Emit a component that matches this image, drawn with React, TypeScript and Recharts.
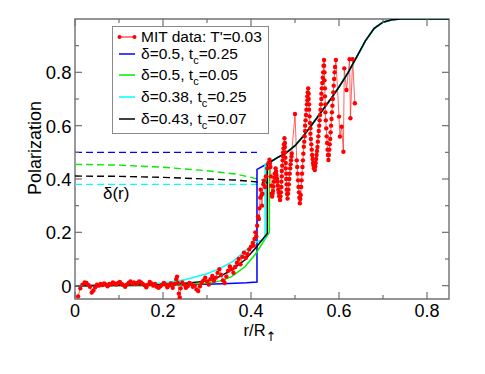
import { LineChart, Line, XAxis, YAxis, ReferenceArea } from "recharts";

// measured data (r/R, polarization)
const mitData = [
  [0.007, -0.04], [0.012, -0.01], [0.017, 0.004], [0.022, 0.012], [0.026, 0.01], [0.03, 0.003],
  [0.034, -0.004], [0.038, -0.026], [0.042, -0.018], [0.046, -0.006], [0.05, 0.004], [0.054, 0.0],
  [0.058, 0.006], [0.062, 0.002], [0.066, 0.008], [0.07, 0.005], [0.074, -0.002], [0.078, 0.006],
  [0.082, 0.004], [0.086, 0.012], [0.09, 0.008], [0.094, 0.004], [0.098, 0.01], [0.102, 0.014],
  [0.106, 0.006], [0.11, 0.002], [0.114, -0.004], [0.118, 0.004], [0.122, 0.01], [0.126, 0.016],
  [0.13, 0.008], [0.134, 0.012], [0.138, 0.006], [0.142, 0.01], [0.146, 0.016], [0.15, 0.012],
  [0.154, 0.006], [0.158, 0.002], [0.162, -0.006], [0.166, 0.004], [0.17, 0.014], [0.174, 0.008],
  [0.178, 0.0], [0.182, 0.006], [0.186, -0.004], [0.19, -0.008], [0.194, -0.002], [0.198, 0.004],
  [0.202, 0.01], [0.206, 0.004], [0.21, -0.006], [0.214, 0.002], [0.218, 0.008], [0.222, -0.008],
  [0.226, 0.006], [0.23, 0.024], [0.232, 0.034], [0.234, 0.01], [0.236, -0.03], [0.238, -0.044],
  [0.24, -0.01], [0.244, 0.012], [0.248, 0.004], [0.252, -0.008], [0.256, -0.002], [0.26, 0.01],
  [0.264, 0.006], [0.268, -0.004], [0.272, 0.0], [0.276, -0.014], [0.28, -0.02], [0.284, -0.002],
  [0.288, 0.012], [0.292, 0.02], [0.296, 0.03], [0.3, 0.016], [0.304, 0.004], [0.308, 0.024],
  [0.312, 0.036], [0.316, 0.018], [0.32, 0.03], [0.324, 0.048], [0.328, 0.062], [0.332, 0.04],
  [0.336, 0.02], [0.34, 0.01], [0.344, 0.034], [0.348, 0.056], [0.352, 0.072], [0.356, 0.062],
  [0.36, 0.048], [0.364, 0.07], [0.368, 0.086], [0.372, 0.1], [0.376, 0.08], [0.38, 0.108],
  [0.384, 0.124], [0.388, 0.104], [0.392, 0.118], [0.396, 0.136], [0.4, 0.146], [0.404, 0.16],
  [0.406, 0.15], [0.408, 0.175], [0.41, 0.2], [0.412, 0.185], [0.414, 0.225], [0.416, 0.26],
  [0.418, 0.25], [0.419, 0.29], [0.421, 0.33], [0.422, 0.36], [0.424, 0.34], [0.425, 0.3],
  [0.426, 0.345], [0.428, 0.38], [0.43, 0.395], [0.432, 0.37], [0.434, 0.41], [0.437, 0.44],
  [0.44, 0.46], [0.442, 0.472], [0.443, 0.458], [0.444, 0.445], [0.445, 0.41], [0.446, 0.375],
  [0.447, 0.345], [0.448, 0.334], [0.449, 0.345], [0.45, 0.355], [0.451, 0.372], [0.452, 0.39],
  [0.453, 0.405], [0.454, 0.42], [0.456, 0.44], [0.457, 0.428], [0.458, 0.415], [0.459, 0.402],
  [0.46, 0.39], [0.461, 0.375], [0.462, 0.36], [0.463, 0.348], [0.464, 0.335], [0.466, 0.321],
  [0.467, 0.335], [0.468, 0.35], [0.469, 0.37], [0.469, 0.39], [0.47, 0.41], [0.47, 0.43],
  [0.471, 0.45], [0.472, 0.47], [0.473, 0.485], [0.473, 0.5], [0.474, 0.515], [0.475, 0.53],
  [0.476, 0.553], [0.477, 0.535], [0.477, 0.52], [0.478, 0.5], [0.478, 0.48], [0.479, 0.46],
  [0.479, 0.44], [0.48, 0.42], [0.48, 0.4], [0.481, 0.38], [0.481, 0.36], [0.482, 0.344],
  [0.483, 0.327], [0.484, 0.345], [0.485, 0.36], [0.486, 0.38], [0.487, 0.4], [0.488, 0.42],
  [0.489, 0.44], [0.49, 0.455], [0.491, 0.47], [0.492, 0.484], [0.4925, 0.496], [0.5, 0.644],
  [0.504, 0.47], [0.505, 0.445], [0.506, 0.42], [0.507, 0.395], [0.508, 0.37], [0.509, 0.35],
  [0.51, 0.33], [0.511, 0.309], [0.512, 0.325], [0.513, 0.34], [0.514, 0.37], [0.515, 0.395],
  [0.516, 0.42], [0.517, 0.445], [0.518, 0.47], [0.519, 0.495], [0.52, 0.521], [0.521, 0.54],
  [0.522, 0.56], [0.523, 0.58], [0.523, 0.6], [0.524, 0.62], [0.525, 0.64], [0.526, 0.66],
  [0.527, 0.68], [0.528, 0.695], [0.528, 0.71], [0.529, 0.725], [0.53, 0.74], [0.531, 0.72],
  [0.531, 0.7], [0.532, 0.68], [0.532, 0.66], [0.533, 0.635], [0.534, 0.61], [0.535, 0.59],
  [0.535, 0.57], [0.536, 0.55], [0.537, 0.53], [0.538, 0.51], [0.539, 0.49], [0.54, 0.475],
  [0.541, 0.46], [0.542, 0.45], [0.543, 0.44], [0.545, 0.434], [0.546, 0.447], [0.547, 0.46],
  [0.548, 0.475], [0.549, 0.49], [0.55, 0.505], [0.551, 0.52], [0.552, 0.54], [0.553, 0.56],
  [0.554, 0.58], [0.555, 0.6], [0.556, 0.62], [0.557, 0.64], [0.558, 0.66], [0.559, 0.68],
  [0.56, 0.7], [0.56, 0.72], [0.561, 0.74], [0.562, 0.76], [0.563, 0.78], [0.564, 0.8],
  [0.565, 0.825], [0.566, 0.846], [0.566, 0.825], [0.567, 0.8], [0.567, 0.77], [0.568, 0.74],
  [0.568, 0.71], [0.569, 0.68], [0.569, 0.65], [0.57, 0.62], [0.571, 0.59], [0.572, 0.56],
  [0.573, 0.535], [0.574, 0.51], [0.575, 0.49], [0.576, 0.471], [0.577, 0.49], [0.578, 0.51],
  [0.579, 0.53], [0.58, 0.55], [0.581, 0.575], [0.582, 0.6], [0.583, 0.625], [0.584, 0.65],
  [0.585, 0.675], [0.586, 0.7], [0.587, 0.725], [0.588, 0.75], [0.589, 0.775], [0.59, 0.8],
  [0.591, 0.82], [0.593, 0.846], [0.6, 0.634], [0.602, 0.559], [0.606, 0.596], [0.61, 0.502],
  [0.612, 0.815], [0.617, 0.734], [0.624, 0.849], [0.626, 0.628], [0.631, 0.849], [0.636, 0.684],
];

// shared upper branch of all four model curves
const tail = [
  [0.442, 0.462], [0.46, 0.48], [0.48, 0.498], [0.5, 0.525], [0.52, 0.563], [0.54, 0.607],
  [0.56, 0.652], [0.58, 0.697], [0.6, 0.745], [0.62, 0.797], [0.64, 0.857], [0.66, 0.918],
  [0.68, 0.965], [0.7, 0.988], [0.72, 0.997], [0.74, 1.0], [0.85, 1.0],
];

const blueModel = [
  [0, 0], [0.1, 0.001], [0.2, 0.002], [0.3, 0.005], [0.35, 0.008], [0.39, 0.011],
  [0.4136, 0.014], [0.4136, 0.436], [0.439, 0.459], ...tail,
];
const greenModel = [
  [0, 0], [0.2, 0.001], [0.25, 0.003], [0.3, 0.009], [0.33, 0.018], [0.356, 0.034],
  [0.386, 0.071], [0.41, 0.118], [0.4416, 0.2], ...tail,
];
const cyanModel = [
  [0, 0], [0.1, 0.001], [0.15, 0.004], [0.2, 0.01], [0.25, 0.022], [0.3, 0.045], [0.33, 0.065],
  [0.36, 0.092], [0.386, 0.13], [0.41, 0.162], [0.432, 0.175], [0.432, 0.455], ...tail,
];
const blackModel = [
  [0, 0], [0.2, 0.004], [0.25, 0.009], [0.3, 0.017], [0.33, 0.035], [0.356, 0.059],
  [0.386, 0.096], [0.41, 0.14], [0.437, 0.196], [0.437, 0.459], ...tail,
];

// delta(r) profiles
const blueDelta = [[0, 0.5], [0.4136, 0.5]];
const greenDelta = [[0, 0.455], [0.1, 0.452], [0.2, 0.444], [0.3, 0.431], [0.364, 0.419], [0.4, 0.406], [0.4416, 0.39]];
const cyanDelta = [[0, 0.38], [0.432, 0.38]];
const blackDelta = [[0, 0.411], [0.1, 0.41], [0.2, 0.406], [0.3, 0.4], [0.364, 0.396], [0.437, 0.386]];

const xTicks = [0, 0.1, 0.2, 0.3, 0.4, 0.5, 0.6, 0.7, 0.8];
const yTicks = [0, 0.1, 0.2, 0.3, 0.4, 0.5, 0.6, 0.7, 0.8, 0.9];

const FONT = '"Liberation Sans", Arial, sans-serif';
const AXIS = "#707070";
const TOP = 19;
const BOTTOM = 299;
const LEFT = 75;
const RIGHT = 449;

const pts = (a: number[][]) => a.map(([r, p]) => ({ r, p }));
const isMajor = (v: number) => Math.round(v * 10) % 2 === 0;
const fmt = (v: number) => (v === 0 ? "0" : v.toFixed(1));

function XTick(props: any) {
  const { x, payload } = props;
  const v = payload.value;
  const len = isMajor(v) ? 7 : 4;
  return (
    <g>
      <line x1={x} x2={x} y1={BOTTOM} y2={BOTTOM - len} stroke={AXIS} strokeWidth={1.2} />
      <line x1={x} x2={x} y1={TOP} y2={TOP + len} stroke={AXIS} strokeWidth={1.2} />
      {isMajor(v) && (
        <text x={x} y={316.5} textAnchor="middle" fontSize={18} fontFamily={FONT} fill="#000">
          {fmt(v)}
        </text>
      )}
    </g>
  );
}

function YTick(props: any) {
  const { y, payload } = props;
  const v = payload.value;
  const len = isMajor(v) ? 7 : 4;
  return (
    <g>
      <line x1={LEFT} x2={LEFT + len} y1={y} y2={y} stroke={AXIS} strokeWidth={1.2} />
      <line x1={RIGHT} x2={RIGHT - len} y1={y} y2={y} stroke={AXIS} strokeWidth={1.2} />
      {isMajor(v) && (
        <text x={71.5} y={y + 7} textAnchor="end" fontSize={18.5} fontFamily={FONT} fill="#000">
          {fmt(v)}
        </text>
      )}
    </g>
  );
}

function XTitle(props: any) {
  const { viewBox } = props;
  const cx = viewBox.x + viewBox.width / 2;
  return (
    <text x={cx - 2} y={336} textAnchor="middle" fontSize={16.5} fontFamily={FONT} fill="#000">
      r/R
      <tspan fontSize={13} dy={5} fontFamily="DejaVu Sans">↑</tspan>
    </text>
  );
}

function YTitle() {
  return (
    <text
      x={35}
      y={148}
      transform="rotate(-90 35 148)"
      textAnchor="middle"
      dominantBaseline="central"
      fontSize={18}
      fontFamily={FONT}
      fill="#000"
    >
      Polarization
    </text>
  );
}

const legendRows = [
  { color: "#ff0000", text: "MIT data: T'=0.03", top: 10, dots: true },
  { color: "#0000ff", d: "0.5", t: "0.25", top: 26.5 },
  { color: "#00ee00", d: "0.5", t: "0.05", top: 48 },
  { color: "#00ffff", d: "0.38", t: "0.25", top: 70 },
  { color: "#000000", d: "0.43", t: "0.07", top: 91.5 },
];

function Legend() {
  return (
    <div
      style={{
        position: "absolute",
        left: 112,
        top: 26,
        width: 155,
        height: 106,
        border: "1.3px solid #8a8a8a",
        background: "#fff",
        fontFamily: FONT,
        fontSize: 15.5,
        color: "#000",
      }}
    >
      {legendRows.map((row, i) => (
        <div key={i} style={{ position: "absolute", left: 0, top: row.top - 9, height: 18, width: 155 }}>
          <svg width={24} height={18} style={{ position: "absolute", left: 3, top: 0 }}>
            <line x1={3} x2={19} y1={9} y2={9} stroke={row.color} strokeWidth={row.dots ? 1 : 1.5} />
            {row.dots && (
              <>
                <circle cx={3.5} cy={9} r={2} fill={row.color} />
                <circle cx={18.5} cy={9} r={2} fill={row.color} />
              </>
            )}
          </svg>
          <div style={{ position: "absolute", left: 28, top: 0, lineHeight: "18px", whiteSpace: "nowrap" }}>
            {row.dots ? (
              row.text
            ) : (
              <>
                δ={row.d}, t
                <span style={{ fontSize: 11, position: "relative", top: 5 }}>c</span>={row.t}
              </>
            )}
          </div>
        </div>
      ))}
    </div>
  );
}

export default function App() {
  return (
    <div style={{ position: "absolute", left: 0, top: 0, width: 485, height: 374, background: "#fff" }}>
      <LineChart width={485} height={374} margin={{ top: TOP, right: 36, left: 15, bottom: 45 }}>
        <XAxis
          dataKey="r"
          type="number"
          domain={[0, 0.85]}
          ticks={xTicks}
          interval={0}
          tick={XTick}
          axisLine={false}
          tickLine={false}
          height={30}
          allowDataOverflow
          label={<XTitle />}
        />
        <YAxis
          type="number"
          domain={[-0.05, 1]}
          ticks={yTicks}
          interval={0}
          tick={YTick}
          axisLine={false}
          tickLine={false}
          width={60}
          allowDataOverflow
          label={<YTitle />}
        />
        <ReferenceArea x1={0} x2={0.85} y1={-0.05} y2={1} fill="none" stroke={AXIS} strokeWidth={1.4} />
        <Line
          data={pts(mitData)}
          dataKey="p"
          type="linear"
          stroke="#ff3030"
          strokeWidth={1}
          strokeOpacity={0.75}
          dot={{ r: 2.2, fill: "#ff0000", stroke: "none" }}
          isAnimationActive={false}
        />
        <Line data={pts(blueDelta)} dataKey="p" type="linear" stroke="#0000ff" strokeWidth={1.4} strokeDasharray="7 4" dot={false} isAnimationActive={false} />
        <Line data={pts(greenDelta)} dataKey="p" type="linear" stroke="#00ee00" strokeWidth={1.4} strokeDasharray="7 4" dot={false} isAnimationActive={false} />
        <Line data={pts(cyanDelta)} dataKey="p" type="linear" stroke="#00ffff" strokeWidth={1.4} strokeDasharray="7 4" dot={false} isAnimationActive={false} />
        <Line data={pts(blackDelta)} dataKey="p" type="linear" stroke="#000000" strokeWidth={1.4} strokeDasharray="7 4" dot={false} isAnimationActive={false} />
        <Line data={pts(blueModel)} dataKey="p" type="linear" stroke="#0000ff" strokeWidth={1.5} dot={false} isAnimationActive={false} />
        <Line data={pts(greenModel)} dataKey="p" type="linear" stroke="#00ee00" strokeWidth={1.5} dot={false} isAnimationActive={false} />
        <Line data={pts(cyanModel)} dataKey="p" type="linear" stroke="#00ffff" strokeWidth={1.5} dot={false} isAnimationActive={false} />
        <Line data={pts(blackModel)} dataKey="p" type="linear" stroke="#000000" strokeWidth={1.5} dot={false} isAnimationActive={false} />
      </LineChart>
      <Legend />
      <div
        style={{
          position: "absolute",
          left: 103,
          top: 184,
          fontFamily: FONT,
          fontSize: 17,
          lineHeight: "20px",
          color: "#000",
        }}
      >
        δ(r)
      </div>
    </div>
  );
}
